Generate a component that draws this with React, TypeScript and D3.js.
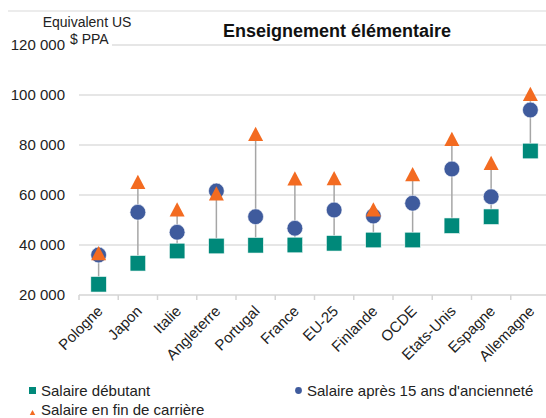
import React from "react";
import * as d3 from "d3";

const categories = ["Pologne","Japon","Italie","Angleterre","Portugal","France","EU-25","Finlande","OCDE","Etats-Unis","Espagne","Allemagne"];
const debutant = [24300,32700,37600,39600,39900,40000,40700,42000,42000,47700,51300,77600];
const quinzeAns = [36000,53100,45100,61600,51300,46700,54000,51600,56700,70400,59300,94000];
const finCarriere = [36800,65300,54300,60700,84500,66700,66800,54300,68400,82500,72900,100500];
const yTicks = [20000,40000,60000,80000,100000,120000];
const seriesNames = ["Salaire débutant","Salaire après 15 ans d'ancienneté","Salaire en fin de carrière"];

const W = 546, H = 418;
const TEAL = "#00897a", BLUE = "#3f5b9d", ORANGE = "#f36b21";
const FONT = "'Liberation Sans', Arial, sans-serif";

export default function App() {
  const x = d3.scaleBand<string>().domain(categories).range([79, 550]).padding(0);
  const y = d3.scaleLinear().domain([20000, 120000]).range([295, 45]);
  const fmt = (v: number) => d3.format(",")(v).replace(/,/g, " ");
  const cx = (c: string) => (x(c) as number) + x.bandwidth() / 2;
  const triPath = (w: number, hr = 0.95) => {
    const h = w * hr;
    return `M0,${-h / 2}L${w / 2},${h / 2}L${-w / 2},${h / 2}Z`;
  };
  return (
    <svg width={W} height={H} style={{ position: "absolute", left: 0, top: 0, fontFamily: FONT }}>
      <rect width={W} height={H} fill="#fff" />
      <line x1={8} x2={W} y1={11} y2={11} stroke="#d9d9d9" strokeWidth={1} />
      {yTicks.map(t => (
        <g key={t}>
          {t > 20000 && <line x1={79} x2={W} y1={y(t)} y2={y(t)} stroke="#dedede" strokeWidth={1.5} />}
          <text x={65} y={y(t)} dy="0.35em" textAnchor="end" fontSize={15} fill="#222">{fmt(t)}</text>
        </g>
      ))}
      {/* x axis */}
      <line x1={79} x2={W} y1={y(20000)} y2={y(20000)} stroke="#d4d4d4" strokeWidth={1.5} />
      {categories.map(c => (
        <line key={c} x1={x(c) as number} x2={x(c) as number} y1={y(20000)} y2={y(20000) + 5} stroke="#d4d4d4" strokeWidth={1.5} />
      ))}
      {categories.map(c => (
        <text key={c} transform={`translate(${cx(c) + 5},${y(20000) + 17}) rotate(-45)`} textAnchor="end" fontSize={15} fill="#222">{c}</text>
      ))}
      {/* axis title */}
      <rect x={68} y={32} width={44} height={16} fill="#fff" />
      <text x={87} y={27} textAnchor="middle" fontSize={14} fill="#222">Equivalent US</text>
      <text x={70} y={44} fontSize={14} fill="#222">$ PPA</text>
      {/* title */}
      <text x={337} y={37} textAnchor="middle" fontSize={18} fontWeight="bold" fill="#111">Enseignement élémentaire</text>
      {/* range lines */}
      {categories.map((c, i) => {
        const vals = [debutant[i], quinzeAns[i], finCarriere[i]];
        return <line key={c} x1={cx(c)} x2={cx(c)} y1={y(d3.min(vals)!)} y2={y(d3.max(vals)!)} stroke="#a6a6a6" strokeWidth={1.5} />;
      })}
      {categories.map((c, i) => (
        <rect key={c} x={cx(c) - 7.8} y={y(debutant[i]) - 7.8} width={15.6} height={15.6} fill={TEAL} stroke="#fff" strokeWidth={0.6} />
      ))}
      {categories.map((c, i) => (
        <circle key={c} cx={cx(c)} cy={y(quinzeAns[i])} r={7.9} fill={BLUE} stroke="#fff" strokeWidth={0.6} />
      ))}
      {categories.map((c, i) => (
        <path key={c} d={triPath(15)} transform={`translate(${cx(c)},${y(finCarriere[i])})`} fill={ORANGE} />
      ))}
      {/* legend */}
      <rect x={29} y={387} width={7} height={7} fill={TEAL} />
      <text x={41} y={396} fontSize={15} fill="#222">{seriesNames[0]}</text>
      <circle cx={298.5} cy={390.5} r={3.4} fill={BLUE} />
      <text x={307} y={396} fontSize={15} fill="#222">{seriesNames[1]}</text>
      <path d={triPath(5.5, 0.9)} transform="translate(32.5,412.5)" fill={ORANGE} />
      <text x={41} y={415} fontSize={15} fill="#222">{seriesNames[2]}</text>
    </svg>
  );
}
